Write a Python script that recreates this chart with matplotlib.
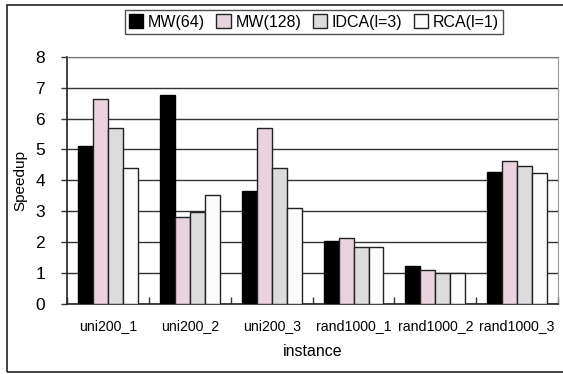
import matplotlib
matplotlib.use("Agg")
import matplotlib.pyplot as plt
import numpy as np

# data
instances = ["uni200_1", "uni200_2", "uni200_3", "rand1000_1", "rand1000_2", "rand1000_3"]
series_names = ["MW(64)", "MW(128)", "IDCA(l=3)", "RCA(l=1)"]
mw64 = [5.11, 6.75, 3.65, 2.03, 1.24, 4.27]
mw128 = [6.62, 2.83, 5.68, 2.12, 1.10, 4.64]
idca = [5.68, 2.97, 4.39, 1.85, 1.00, 4.45]
rca = [4.39, 3.52, 3.10, 1.85, 1.00, 4.24]
yticks = [0, 1, 2, 3, 4, 5, 6, 7, 8]

plt.rcParams['font.family'] = ['Liberation Sans', 'DejaVu Sans']

fig = plt.figure(figsize=(5.63, 3.74), dpi=100)
ax = fig.add_axes([67.3/563, 1 - 304/374, (558 - 67.3)/563, (304 - 56.7)/374])

# outer chart border (right side clipped in the original)
fig.patches.append(plt.Rectangle((7/563, 2/374), 1.0, (372 - 5)/374, transform=fig.transFigure,
                                 fill=False, ec='#222222', lw=1.2, clip_on=False))

x = np.arange(len(instances))
w = 0.183
styles = [
    dict(color='black', edgecolor='black'),
    dict(color='#EAD3DF', edgecolor='#222222'),
    dict(color='#DCDCDC', edgecolor='#222222'),
    dict(color='#FBFBFB', edgecolor='#222222'),
]
handles = []
for i, (vals, name, st) in enumerate(zip([mw64, mw128, idca, rca], series_names, styles)):
    b = ax.bar(x + (i - 1.5) * w, vals, w, label=name, linewidth=1.0, zorder=3, **st)
    handles.append(b)

ax.set_xlim(-0.5, len(instances) - 0.5)
ax.set_ylim(0, 8)
ax.set_yticks(yticks)
ax.yaxis.grid(True, color='#333333', lw=1.0, zorder=0)
ax.set_axisbelow(True)

# category tick marks at boundaries, labels centered
ax.set_xticks(np.arange(len(instances) + 1) - 0.5, minor=False)
ax.set_xticklabels([])
ax.set_xticks(x, minor=True)
ax.set_xticklabels(instances, minor=True, fontsize=10.2)
ax.tick_params(axis='x', which='major', direction='in', length=5, width=1, color='#333333')
ax.tick_params(axis='x', which='minor', length=0, pad=11)
ax.tick_params(axis='y', direction='out', length=4, width=1, labelsize=12.5, pad=12, color='#333333')

for side in ['left', 'bottom']:
    ax.spines[side].set_color('#222222')
    ax.spines[side].set_linewidth(1.2)
ax.spines['right'].set_color('#999999')
ax.spines['top'].set_color('#777777')

ax.set_xlabel("instance", fontsize=11.5, labelpad=8)
ax.set_ylabel("Speedup", fontsize=11, labelpad=6)

leg = fig.legend(handles=handles, loc='center', bbox_to_anchor=(314/563, 1 - 22/374), ncol=4,
                 fontsize=11.5, frameon=True, fancybox=False, handlelength=0.9, handleheight=0.9,
                 handletextpad=0.3, columnspacing=0.7, borderpad=0.25, borderaxespad=0)
leg.get_frame().set_edgecolor('#222222')
leg.get_frame().set_linewidth(1.0)

fig.savefig("out.png", dpi=100)
